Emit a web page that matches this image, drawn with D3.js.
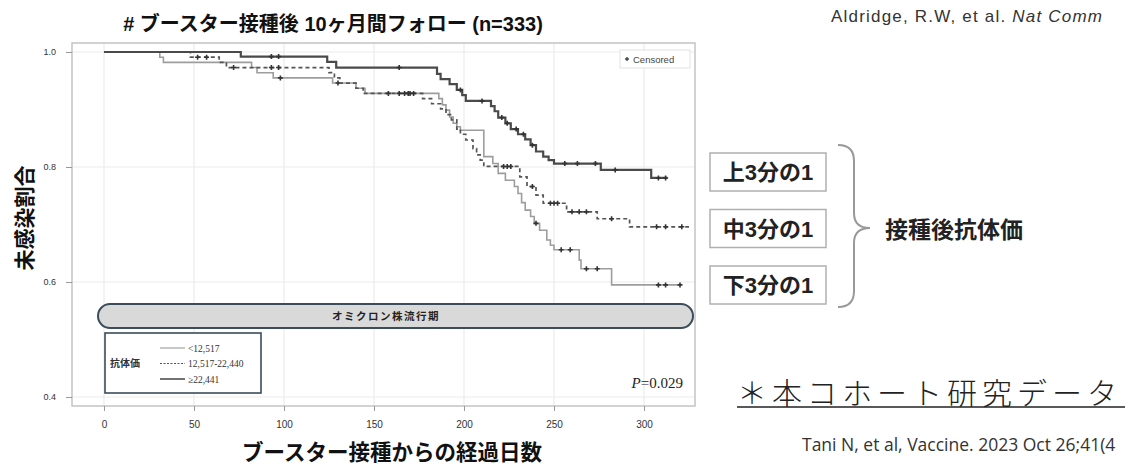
<!DOCTYPE html>
<html>
<head>
<meta charset="utf-8">
<script src="https://cdn.jsdelivr.net/npm/d3@7"></script>
<style>
  body { margin: 0; background: #fff; }
  svg { display: block; }
</style>
</head>
<body>
<svg id="chart" width="1125" height="466"></svg>
<script>
// Kaplan-Meier steps: [day, survival from that day on]
var lowSteps = [[0,1.0],[31,0.991],[33,0.982],[82,0.973],[85,0.964],[94,0.955],[127,0.946],[140,0.937],[145,0.928],
  [186,0.919],[188,0.908],[190,0.899],[192,0.887],[194,0.876],[196,0.870],[198,0.864],[211,0.818],[216,0.806],
  [219,0.789],[223,0.777],[228,0.766],[230,0.754],[232,0.738],[234,0.725],[237,0.714],[239,0.702],[242,0.690],
  [246,0.673],[248,0.664],[250,0.656],[264,0.638],[265,0.623],[282,0.595]];
var lowEnd = 320;
var lowCensor = [98, 130, 170, 240, 254, 259, 268, 274, 308, 312, 320];

var midSteps = [[0,1.0],[48,0.991],[64,0.982],[68,0.973],[125,0.964],[128,0.955],[131,0.946],[140,0.937],[144,0.928],
  [177,0.919],[182,0.910],[187,0.901],[190,0.891],[193,0.882],[196,0.866],[198,0.857],[201,0.847],[205,0.832],
  [207,0.821],[209,0.812],[211,0.801],[231,0.783],[235,0.766],[240,0.751],[244,0.737],[257,0.722],[274,0.710],
  [292,0.696]];
var midEnd = 325;
var midCensor = [52, 57, 72, 93, 97, 158, 164, 167, 169, 172, 222, 224, 226, 238, 248, 250, 252, 260, 264, 268,
  282, 307, 312, 321];

var highSteps = [[0,1.0],[76,0.992],[124,0.983],[129,0.973],[185,0.962],[187,0.953],[192,0.944],[196,0.934],
  [199,0.925],[201,0.915],[215,0.906],[217,0.897],[219,0.886],[223,0.876],[226,0.866],[230,0.857],[234,0.848],
  [237,0.838],[240,0.827],[244,0.818],[247,0.812],[250,0.806],[276,0.795],[304,0.781]];
var highEnd = 313;
var highCensor = [93, 97, 164, 198, 210, 221, 224, 229, 233, 238, 256, 263, 273, 284, 308, 312];

var xTicks = [0, 50, 100, 150, 200, 250, 300];
var yTicks = [0.4, 0.6, 0.8, 1.0];
var legendLabels = ["<12,517", "12,517-22,440", "\u226522,441"];
var groupLabels = ["上3分の1", "中3分の1", "下3分の1"];

var svg = d3.select("#chart");
var jp = "'Liberation Sans', 'Noto Sans CJK JP', sans-serif";

var x = d3.scaleLinear().domain([0, 300]).range([104, 644]);
var y = d3.scaleLinear().domain([0.4, 1.0]).range([397, 52]);

var frame = {left: 72, top: 43, right: 695, bottom: 406};

// title
svg.append("text")
    .attr("x", 333).attr("y", 31)
    .attr("text-anchor", "middle")
    .attr("font-family", jp).attr("font-weight", "bold").attr("font-size", 20)
    .attr("fill", "#111")
    .text("# ブースター接種後 10ヶ月間フォロー (n=333)");

var ref = svg.append("text")
    .attr("x", 831).attr("y", 22)
    .attr("font-family", "'Liberation Sans', sans-serif").attr("font-size", 17)
    .attr("letter-spacing", 1.2)
    .attr("fill", "#333");
ref.append("tspan").text("Aldridge, R.W, et al. ");
ref.append("tspan").attr("font-style", "italic").text("Nat Comm");

// grid
svg.append("g").selectAll("line").data(xTicks).enter().append("line")
    .attr("x1", function (d) { return x(d); }).attr("x2", function (d) { return x(d); })
    .attr("y1", frame.top).attr("y2", frame.bottom)
    .attr("stroke", "#ebebeb").attr("stroke-width", 1.2);
svg.append("g").selectAll("line").data(yTicks).enter().append("line")
    .attr("x1", frame.left).attr("x2", frame.right)
    .attr("y1", function (d) { return y(d); }).attr("y2", function (d) { return y(d); })
    .attr("stroke", "#ebebeb").attr("stroke-width", 1.2);

svg.append("rect")
    .attr("x", frame.left).attr("y", frame.top)
    .attr("width", frame.right - frame.left).attr("height", frame.bottom - frame.top)
    .attr("fill", "none").attr("stroke", "#c4c4c4").attr("stroke-width", 1.5);

// axes
var xAxis = svg.append("g")
    .attr("transform", "translate(0," + frame.bottom + ")")
    .call(d3.axisBottom(x).tickValues(xTicks).tickSize(5).tickPadding(10));
var yAxis = svg.append("g")
    .attr("transform", "translate(" + frame.left + ",0)")
    .call(d3.axisLeft(y).tickValues(yTicks).tickSize(6).tickFormat(d3.format(".1f")).tickPadding(10));
[xAxis, yAxis].forEach(function (a) {
    a.select(".domain").remove();
    a.selectAll(".tick line").attr("stroke", "#999");
    a.selectAll(".tick text").attr("font-family", "'Liberation Sans', sans-serif")
        .attr("font-size", 10).attr("fill", "#333");
});
yAxis.selectAll(".tick text").attr("font-size", 9);

svg.append("text")
    .attr("transform", "translate(32,218) rotate(-90)")
    .attr("text-anchor", "middle")
    .attr("font-family", jp).attr("font-weight", "bold").attr("font-size", 21)
    .attr("fill", "#111")
    .text("未感染割合");

svg.append("text")
    .attr("x", 392).attr("y", 460)
    .attr("text-anchor", "middle")
    .attr("font-family", jp).attr("font-weight", "bold").attr("font-size", 21.5)
    .attr("fill", "#111")
    .text("ブースター接種からの経過日数");

// omicron period bar
svg.append("rect")
    .attr("x", 98).attr("y", 304).attr("width", 595).attr("height", 24).attr("rx", 12)
    .attr("fill", "#d9d9d9").attr("stroke", "#3b4d5a").attr("stroke-width", 2);
svg.append("text")
    .attr("x", 386).attr("y", 320)
    .attr("text-anchor", "middle")
    .attr("font-family", jp).attr("font-weight", "bold").attr("font-size", 10.5)
    .attr("letter-spacing", 1.5).attr("fill", "#222")
    .text("オミクロン株流行期");

// curves
var valueAt = function (steps, t) {
    var v = steps[0][1];
    steps.forEach(function (s) { if (s[0] <= t) v = s[1]; });
    return v;
};
var step = d3.line()
    .x(function (d) { return x(d[0]); })
    .y(function (d) { return y(d[1]); })
    .curve(d3.curveStepAfter);

var series = [
    {steps: lowSteps, end: lowEnd, censor: lowCensor, color: "#9d9d9d", width: 1.6, dash: null},
    {steps: midSteps, end: midEnd, censor: midCensor, color: "#555", width: 1.7, dash: "4,3"},
    {steps: highSteps, end: highEnd, censor: highCensor, color: "#4a4a4a", width: 2.2, dash: null}
];

series.forEach(function (s) {
    var pts = s.steps.concat([[s.end, s.steps[s.steps.length - 1][1]]]);
    svg.append("path")
        .datum(pts)
        .attr("d", step)
        .attr("fill", "none")
        .attr("stroke", s.color)
        .attr("stroke-width", s.width)
        .attr("stroke-dasharray", s.dash);
    svg.append("g").selectAll("path").data(s.censor).enter().append("path")
        .attr("transform", function (d) { return "translate(" + x(d) + "," + y(valueAt(s.steps, d)) + ")"; })
        .attr("d", "M-2.5,0H2.5M0,-2.5V2.5")
        .attr("stroke", "#333").attr("stroke-width", 1.6);
});

// censored legend
svg.append("rect")
    .attr("x", 620).attr("y", 50).attr("width", 70).attr("height", 18)
    .attr("fill", "#fff").attr("stroke", "#e2e2e2");
svg.append("path")
    .attr("transform", "translate(627,59)")
    .attr("d", "M-2,0H2M0,-2V2").attr("stroke", "#444").attr("stroke-width", 1.4);
svg.append("text")
    .attr("x", 633).attr("y", 62.5)
    .attr("font-family", "'Liberation Sans', sans-serif").attr("font-size", 9.5)
    .attr("fill", "#444").text("Censored");

// antibody legend
svg.append("rect")
    .attr("x", 105).attr("y", 333).attr("width", 156).attr("height", 60)
    .attr("fill", "#fff").attr("stroke", "#3b4d5a").attr("stroke-width", 1.6);
svg.append("text")
    .attr("x", 110).attr("y", 367)
    .attr("font-family", jp).attr("font-weight", "bold").attr("font-size", 10)
    .attr("fill", "#333").text("抗体価");
var legRows = svg.append("g").selectAll("g").data(series).enter().append("g")
    .attr("transform", function (d, i) { return "translate(0," + (348 + i * 15.5) + ")"; });
legRows.append("line")
    .attr("x1", 160).attr("x2", 185)
    .attr("stroke", function (d) { return d.color; })
    .attr("stroke-width", function (d) { return d.width * 0.7; })
    .attr("stroke-dasharray", function (d) { return d.dash ? "2,1.5" : null; });
legRows.append("text")
    .attr("x", 188).attr("y", 3.5)
    .attr("font-family", "'Liberation Serif', serif").attr("font-size", 9.5)
    .attr("fill", "#333")
    .text(function (d, i) { return legendLabels[i]; });

var pv = svg.append("text")
    .attr("x", 683).attr("y", 388)
    .attr("text-anchor", "end")
    .attr("font-family", "'Liberation Serif', serif").attr("font-size", 15)
    .attr("fill", "#222");
pv.append("tspan").attr("font-style", "italic").text("P");
pv.append("tspan").text("=0.029");

// right side annotation
var boxes = svg.append("g").selectAll("g").data(groupLabels).enter().append("g")
    .attr("transform", function (d, i) { return "translate(710," + (153 + i * 56.5) + ")"; });
boxes.append("rect")
    .attr("width", 116).attr("height", 38)
    .attr("fill", "#fff").attr("stroke", "#b0b0b0").attr("stroke-width", 1.5);
boxes.append("text")
    .attr("x", 58).attr("y", 27)
    .attr("text-anchor", "middle")
    .attr("font-family", jp).attr("font-weight", "bold").attr("font-size", 22)
    .attr("fill", "#222")
    .text(function (d) { return d; });

svg.append("path")
    .attr("d", "M838,145 Q854,145 854,161 L854,213 Q854,228 870,228 Q854,228 854,243 L854,291 Q854,307 838,307")
    .attr("fill", "none").attr("stroke", "#999").attr("stroke-width", 2);

svg.append("text")
    .attr("x", 885).attr("y", 238)
    .attr("font-family", jp).attr("font-weight", "bold").attr("font-size", 23)
    .attr("fill", "#222")
    .text("接種後抗体価");

svg.append("text")
    .attr("x", 737).attr("y", 404)
    .attr("font-family", "'Noto Sans CJK JP', sans-serif").attr("font-weight", 300).attr("font-size", 30)
    .attr("letter-spacing", 5).attr("fill", "#222")
    .text("＊本コホート研究データ");
svg.append("line")
    .attr("x1", 737).attr("x2", 1125).attr("y1", 407).attr("y2", 407)
    .attr("stroke", "#222").attr("stroke-width", 1.6);

// citation as far as the slide shows it
svg.append("text")
    .attr("x", 802).attr("y", 451)
    .attr("font-family", "'Open Sans', sans-serif").attr("font-size", 17.5)
    .attr("fill", "#333")
    .text("Tani N, et al, Vaccine. 2023 Oct 26;41(4");
</script>
</body>
</html>
